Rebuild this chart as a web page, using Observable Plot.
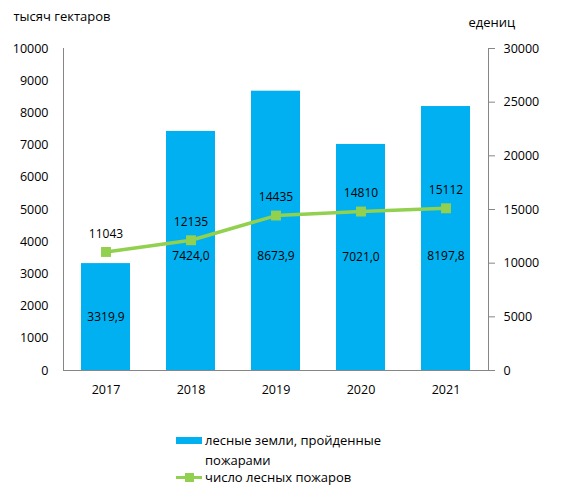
<!DOCTYPE html>
<html>
<head>
<meta charset="utf-8">
<script src="https://cdn.jsdelivr.net/npm/d3@7"></script>
<script src="https://cdn.jsdelivr.net/npm/@observablehq/plot@0.6"></script>
<style>
  body { margin: 0; background: #fff; font-family: "Open Sans", sans-serif; }
  #wrap { position: relative; width: 563px; height: 499px; }
  #legend { position: absolute; left: 176px; top: 430px; font-size: 13px; color: #000; line-height: 20px; }
  .row { display: flex; align-items: flex-start; }
  .sw { width: 26px; height: 20px; position: relative; margin-right: 3px; flex: none; }
</style>
</head>
<body>
<div id="wrap"><div id="chart"></div>
<div id="legend">
  <div class="row"><div class="sw"><div style="position:absolute;left:0;top:7px;width:26px;height:7px;background:#00B0F0"></div></div><div>лесные земли, пройденные<br>пожарами</div></div>
  <div class="row" style="margin-top:-3px"><div class="sw"><div style="position:absolute;left:0;top:9px;width:26px;height:3px;background:#92D050"></div><div style="position:absolute;left:9px;top:6px;width:9px;height:9px;background:#92D050"></div></div><div>число лесных пожаров</div></div>
</div>
</div>
<script>
const years = ["2017", "2018", "2019", "2020", "2021"];
const burnedArea = [3319.9, 7424.0, 8673.9, 7021.0, 8197.8];
const fireCount = [11043, 12135, 14435, 14810, 15112];
const leftTicks = [0, 1000, 2000, 3000, 4000, 5000, 6000, 7000, 8000, 9000, 10000];
const rightTicks = [0, 5000, 10000, 15000, 20000, 25000, 30000];
const leftTitle = "тысяч гектаров";
const rightTitle = "едениц";

const ratio = 10000 / 30000;
const labelLevel = 3550; // common level for bar value labels (kept inside the bar)
const data = years.map((y, i) => ({year: y, area: burnedArea[i], count: fireCount[i]}));
const fmt = v => v.toFixed(1).replace(".", ",");

const chart = Plot.plot({
  width: 563,
  height: 405,
  marginTop: 48,
  marginBottom: 35,
  marginLeft: 63,
  marginRight: 75,
  style: {fontFamily: "Open Sans, sans-serif", fontSize: "12.5px", color: "#000", background: "#fff"},
  x: {domain: years, paddingInner: 0.42, paddingOuter: 0.21, label: null},
  y: {domain: [0, 10000], label: null},
  marks: [
    Plot.barY(data, {x: "year", y: "area", fill: "#00B0F0"}),
    Plot.axisY(leftTicks, {anchor: "left", tickSize: 0, tickPadding: 15, tickFormat: d => String(d), label: null, fontSize: 12.5}),
    Plot.axisY(rightTicks, {anchor: "right", y: d => d * ratio, text: d => String(d), tickSize: 6, tickPadding: 9, stroke: "#868686", label: null, fontSize: 12.5, textStroke: "none"}),
    Plot.axisX({tickSize: 0, tickPadding: 15, label: null, fontSize: 12.5}),
    Plot.frame({anchor: "left", stroke: "#868686"}),
    Plot.frame({anchor: "right", stroke: "#868686"}),
    Plot.frame({anchor: "bottom", stroke: "#868686"}),
    Plot.text(data, {x: "year", y: d => Math.min(d.area / 2, labelLevel), text: d => fmt(d.area), fontSize: 12, fill: "#000"}),
    Plot.line(data, {x: "year", y: d => d.count * ratio, stroke: "#92D050", strokeWidth: 3.5}),
    Plot.dot(data, {x: "year", y: d => d.count * ratio, symbol: "square", r: 5.6, fill: "#92D050"}),
    Plot.text(data, {x: "year", y: d => d.count * ratio, text: d => String(d.count), dy: -18, fontSize: 12, fill: "#000"}),
    Plot.text([leftTitle], {frameAnchor: "top-left", text: d => d, dx: -50, dy: -37, textAnchor: "start", fontSize: 13}),
    Plot.text([rightTitle], {frameAnchor: "top-right", text: d => d, dx: -20, dy: -31, textAnchor: "start", fontSize: 13})
  ]
});
document.getElementById("chart").appendChild(chart);
</script>
</body>
</html>
